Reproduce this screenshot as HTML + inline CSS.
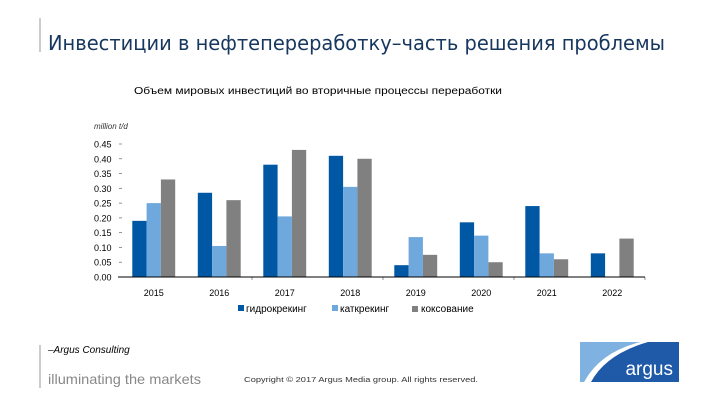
<!DOCTYPE html>
<html><head><meta charset="utf-8"><style>
html,body{margin:0;padding:0;background:#fff;width:720px;height:405px;overflow:hidden}
svg{display:block;font-family:"Liberation Sans","DejaVu Sans",sans-serif}
</style></head><body>
<svg id="s" width="720" height="405" viewBox="0 0 720 405">
<line x1="40" y1="18" x2="40" y2="52" stroke="#999" stroke-width="1"/>
<text x="48" y="50" font-size="20" fill="#17375e" font-family="DejaVu Sans,sans-serif" textLength="617" lengthAdjust="spacingAndGlyphs">Инвестиции в нефтепереработку–часть решения проблемы</text>
<text x="134" y="94" font-size="10" fill="#000" textLength="368" lengthAdjust="spacingAndGlyphs">Объем мировых инвестиций во вторичные процессы переработки</text>
<text x="94" y="129" font-size="8" font-style="italic" fill="#333">million t/d</text>
<g id="plot"></g>
<g>
<rect x="238" y="305" width="6" height="6" fill="#0057a3"/>
<text x="246" y="312" font-size="10" fill="#000">гидрокрекинг</text>
<rect x="332" y="305" width="6" height="6" fill="#6fa8dc"/>
<text x="340" y="312" font-size="10" fill="#000">каткрекинг</text>
<rect x="412" y="306" width="6" height="6" fill="#808080"/>
<text x="421" y="312" font-size="10" fill="#000">коксование</text>
</g>
<line x1="40" y1="345" x2="40" y2="388" stroke="#999" stroke-width="1"/>
<text x="48" y="353" font-size="10" font-style="italic" fill="#000">–Argus Consulting</text>
<text x="48" y="384" font-size="14" fill="#888" textLength="153" lengthAdjust="spacingAndGlyphs">illuminating the markets</text>
<text x="244" y="382" font-size="7" fill="#333" textLength="234" lengthAdjust="spacingAndGlyphs">Copyright © 2017 Argus Media group. All rights reserved.</text>
<g>
<rect x="580" y="342" width="99" height="40" fill="#1f5aa8"/>
<path d="M580 342 L640 342 Q600 352 584 382 L580 382 Z" fill="#7fb2e0"/>
<path d="M584 382 Q600 352 640 342 L648 342 Q606 354 591 382 Z" fill="#fff"/>
<text x="673" y="375" font-size="19" fill="#fff" text-anchor="end">argus</text>
</g>
</svg>
<script>
const categories=["2015","2016","2017","2018","2019","2020","2021","2022"];
const hydrocracking=[0.19,0.285,0.38,0.41,0.04,0.185,0.24,0.08];
const catcracking=[0.25,0.105,0.205,0.305,0.135,0.14,0.08,0];
const coking=[0.33,0.26,0.43,0.40,0.075,0.05,0.06,0.13];
const yTicks=[0,0.05,0.1,0.15,0.2,0.25,0.3,0.35,0.4,0.45];
const series=[hydrocracking,catcracking,coking];
const seriesNames=["hydrocracking","catcracking","coking"];
const colors=["#0057a3","#6fa8dc","#808080"];
const NS="http://www.w3.org/2000/svg";
const g=document.getElementById("plot");
const x0=121,x1=645,y0=277,yTop=144,yMax=0.45;
const band=(x1-x0)/categories.length;
function yScale(v){return y0-(v/yMax)*(y0-yTop);}
function xBand(i){return x0+band*i;}
function mk(t,a){const e=document.createElementNS(NS,t);for(const k in a)e.setAttribute(k,a[k]);g.appendChild(e);return e;}
yTicks.forEach(function(t){
  const y=yScale(t);
  const tx=mk("text",{x:94,y:y+3.5,"font-size":9,fill:"#000"});
  tx.textContent=t.toFixed(2);
  
  
  if(t>0){const l=mk("line",{x1:119,x2:122,y1:y,y2:y,stroke:"#666","stroke-width":0.7});
  
  }
});
const bw=14.3;
categories.forEach(function(c,i){
  const cx=xBand(i)+band/2;
  series.forEach(function(s,j){
    const v=s[i];
    const r=mk("rect",{x:cx-1.5*bw+j*bw,y:yScale(v),width:bw,height:y0-yScale(v),fill:colors[j]});
    
    
  });
  const tx=mk("text",{x:cx,y:296,"font-size":9,fill:"#000","text-anchor":"middle"});
  tx.textContent=c;
  
  
  if(i>0&&i%2===1){const l=mk("line",{x1:xBand(i+1),x2:xBand(i+1),y1:y0,y2:y0+3,stroke:"#666","stroke-width":0.7});
  
  }
});
const ax=mk("line",{x1:118,x2:x1,y1:y0,y2:y0,stroke:"#000","stroke-width":1});


</script>
</body></html>
